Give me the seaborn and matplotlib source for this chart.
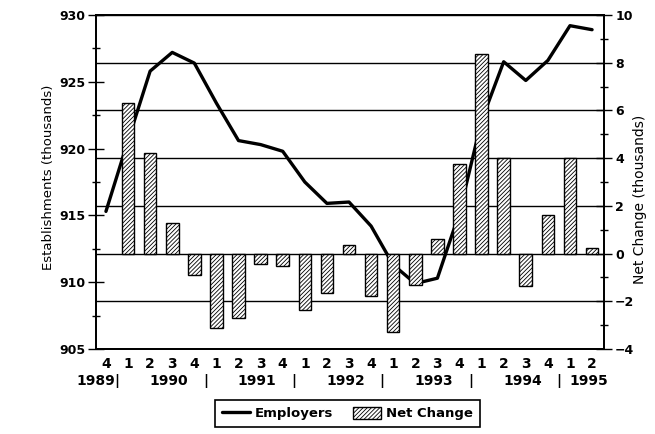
import numpy as np
import pandas as pd
import matplotlib
matplotlib.use('Agg')
import matplotlib.pyplot as plt
import matplotlib.transforms as mtransforms
from matplotlib.lines import Line2D
from matplotlib.patches import Patch
from matplotlib.ticker import MultipleLocator
import seaborn as sns

# quarterly data, 1989 Q4 .. 1995 Q2
years = ["1989", "1990", "1990", "1990", "1990", "1991", "1991", "1991", "1991",
         "1992", "1992", "1992", "1992", "1993", "1993", "1993", "1993",
         "1994", "1994", "1994", "1994", "1995", "1995"]
quarters = ["4", "1", "2", "3", "4", "1", "2", "3", "4", "1", "2", "3", "4",
            "1", "2", "3", "4", "1", "2", "3", "4", "1", "2"]
employers = [915.3, 920.6, 925.8, 927.2, 926.4, 923.4, 920.6, 920.3, 919.8,
             917.5, 915.9, 916.0, 914.2, 911.3, 909.9, 910.3, 915.2,
             922.1, 926.5, 925.1, 926.6, 929.2, 928.9]
net_change = [np.nan, 6.3, 4.2, 1.3, -0.9, -3.1, -2.7, -0.45, -0.5,
              -2.35, -1.65, 0.35, -1.78, -3.3, -1.32, 0.6, 3.75,
              8.35, 4.0, -1.35, 1.6, 4.0, 0.25]

df = pd.DataFrame({"year": years, "quarter": quarters,
                   "employers": employers, "net_change": net_change})
df["pos"] = np.arange(len(df))

sns.set_style("white")
plt.rcParams['font.family'] = ['DejaVu Sans']
plt.rcParams['font.weight'] = 'bold'
plt.rcParams['text.color'] = 'black'
plt.rcParams['axes.labelcolor'] = 'black'
plt.rcParams['xtick.color'] = 'black'
plt.rcParams['ytick.color'] = 'black'
plt.rcParams['hatch.linewidth'] = 0.6
plt.rcParams['hatch.color'] = 'black'

fig = plt.figure(figsize=(6.55, 4.34), dpi=100)
ax1 = fig.add_axes([96 / 655, 1 - 349 / 434, 508 / 655, 334 / 434])
ax2 = ax1.twinx()

sns.lineplot(data=df, x="pos", y="employers", ax=ax1, color="black",
             linewidth=2.4, legend=False)
bars = df.dropna(subset=["net_change"])
sns.barplot(data=bars, x="pos", y="net_change", ax=ax2, native_scale=True,
            width=0.57, color="white", saturation=1, edgecolor="black",
            linewidth=1.0, hatch="////////", errorbar=None)

ax1.set_xlim(-0.45, 22.54)
ax1.set_ylim(905, 930)
ax2.set_ylim(-4, 10)

ax1.set_xticks(df["pos"])
ax1.set_xticklabels(df["quarter"], fontsize=10, fontweight="bold")
ax1.tick_params(axis='x', direction='in', length=5, width=1, pad=6)

ax1.yaxis.set_major_locator(MultipleLocator(5))
ax1.yaxis.set_minor_locator(MultipleLocator(2.5))
ax1.tick_params(axis='y', which='major', direction='inout', length=12,
                width=1, pad=1.5, labelsize=9)
ax1.tick_params(axis='y', which='minor', direction='inout', length=6, width=1)

ax2.yaxis.set_major_locator(MultipleLocator(2))
ax2.yaxis.set_minor_locator(MultipleLocator(1))
ax2.tick_params(axis='y', which='major', direction='inout', length=12,
                width=1, pad=2, labelsize=9)
ax2.tick_params(axis='y', which='minor', direction='inout', length=6, width=1)

ax2.set_axisbelow(True)
ax2.yaxis.grid(True, which='major', color='black', linewidth=1.0)
ax1.grid(False)
ax2.xaxis.grid(False)

for ax in (ax1, ax2):
    for sp in ax.spines.values():
        sp.set_visible(True)
        sp.set_color('black')
        sp.set_linewidth(1.3)

ax1.set_xlabel("")
ax1.set_ylabel("Establishments (thousands)", fontsize=9.5, fontweight="normal")
ax1.yaxis.set_label_coords(-0.081, 0.515)
ax2.set_ylabel("Net Change (thousands)", fontsize=10, fontweight="normal")
ax2.yaxis.set_label_coords(1.057, 0.449)

# year row beneath quarter numbers
trans = mtransforms.blended_transform_factory(ax1.transData, ax1.transAxes)
year_row_y = -0.096
groups = df.groupby("year", sort=False)["pos"]
for yr, pos in groups:
    if len(pos) == 1 and pos.iloc[0] == 0:
        ax1.text(pos.mean() + 0.4, year_row_y, yr, transform=trans,
                 ha='right', va='center', fontsize=10, fontweight='bold')
    else:
        ax1.text(pos.mean() + 0.35, year_row_y, yr, transform=trans,
                 ha='center', va='center', fontsize=10, fontweight='bold')
for yr, pos in list(groups)[:-1]:
    ax1.text(pos.max() + 0.5, year_row_y, "|", transform=trans,
             ha='center', va='center', fontsize=10, fontweight='bold')

handles = [Line2D([], [], color='black', linewidth=2.4),
           Patch(facecolor='white', edgecolor='black', hatch='////////',
                 linewidth=1.0)]
leg = fig.legend(handles, ["Employers", "Net Change"], loc='center',
                 bbox_to_anchor=(347.5 / 655, 1 - 413.5 / 434), ncol=2,
                 frameon=True, fancybox=False, edgecolor='black',
                 framealpha=1, prop={'size': 9.5, 'weight': 'bold'},
                 handlelength=2.1, handleheight=1.0, handletextpad=0.4,
                 columnspacing=1.5, borderpad=0.5)
leg.get_frame().set_linewidth(1.2)

fig.savefig("out.png", dpi=100)
